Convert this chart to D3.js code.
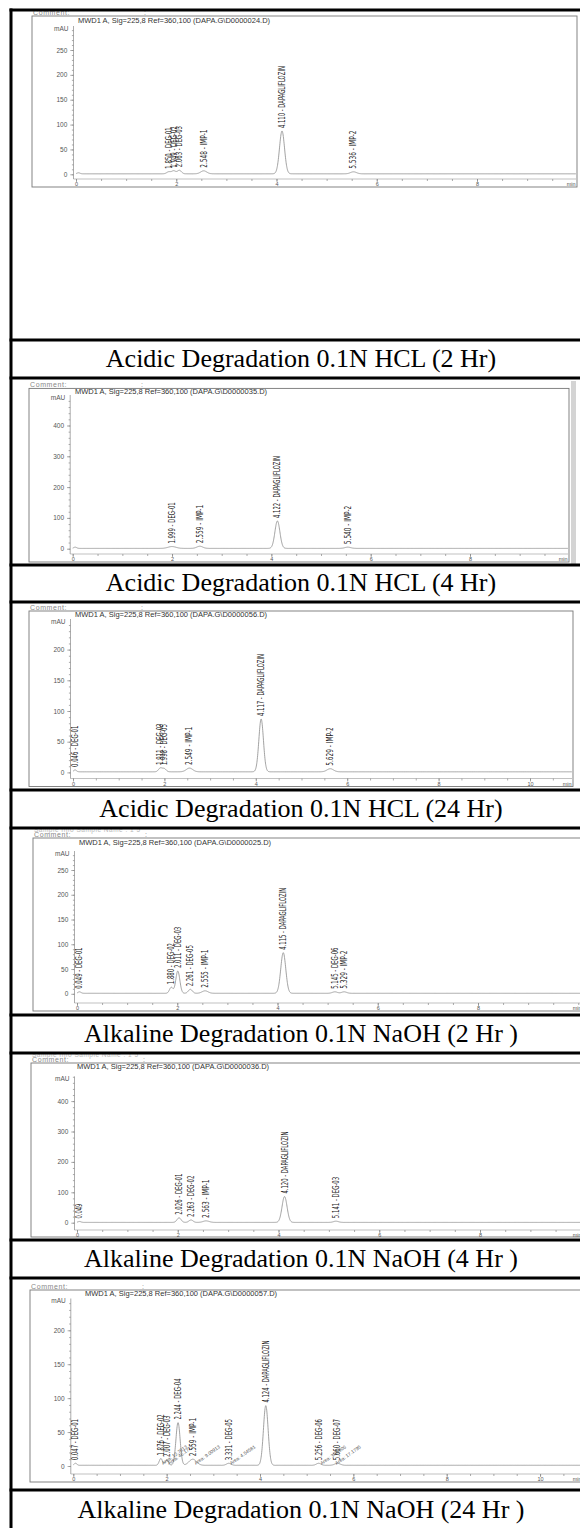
<!DOCTYPE html>
<html>
<head>
<meta charset="utf-8">
<script src="https://cdn.jsdelivr.net/npm/d3@7/dist/d3.min.js"></script>
<style>
body { margin: 0; background: #fff; }
</style>
</head>
<body>
<svg id="s"></svg>
<script>
const captions = [
  'Acidic Degradation 0.1N HCL (2 Hr)',
  'Acidic Degradation 0.1N HCL (4 Hr)',
  'Acidic Degradation 0.1N HCL (24 Hr)',
  'Alkaline Degradation 0.1N NaOH (2 Hr )',
  'Alkaline Degradation 0.1N NaOH (4 Hr )',
  'Alkaline Degradation 0.1N NaOH (24 Hr )',
];
const dataFiles = ['D0000024', 'D0000035', 'D0000056', 'D0000025', 'D0000036', 'D0000057'];

// tick labels
const yTicks250 = [0, 50, 100, 150, 200, 250];
const yTicks400 = [0, 100, 200, 300, 400];
const yTicks200 = [0, 50, 100, 150, 200];
const xTicks8 = [0, 2, 4, 6, 8];
const xTicks10 = [0, 2, 4, 6, 8, 10];

// peaks: retention time (min), height (mAU), sigma (min), name (null = no label)
const acid2Rt = [0.05, 1.850, 1.949, 2.063, 2.548, 4.110, 5.536];
const acid2Height = [2, 4, 6, 7, 6, 86, 4];
const acid2Sigma = [0.03, 0.04, 0.04, 0.04, 0.06, 0.05, 0.06];
const acid2Name = [null, 'DEG-01', 'DEG-02', 'DEG-03', 'IMP-1', 'DAPAGLIFLOZIN', 'IMP-2'];

const acid4Rt = [0.05, 1.999, 2.559, 4.122, 5.540];
const acid4Height = [4, 6, 7, 89, 4];
const acid4Sigma = [0.03, 0.08, 0.06, 0.05, 0.06];
const acid4Name = [null, 'DEG-01', 'IMP-1', 'DAPAGLIFLOZIN', 'IMP-2'];

const acid24Rt = [0.046, 1.911, 1.998, 2.549, 4.117, 5.629];
const acid24Height = [3, 6, 5, 6, 86, 5];
const acid24Sigma = [0.03, 0.04, 0.04, 0.07, 0.05, 0.07];
const acid24Name = ['DEG-01', 'DEG-03', 'DEG-05', 'IMP-1', 'DAPAGLIFLOZIN', 'IMP-2'];

const alk2Rt = [0.049, 1.880, 2.011, 2.261, 2.555, 4.115, 5.145, 5.329];
const alk2Height = [3, 12, 45, 8, 5, 82, 3, 3];
const alk2Sigma = [0.03, 0.035, 0.04, 0.04, 0.06, 0.05, 0.05, 0.05];
const alk2Name = ['DEG-01', 'DEG-02', 'DEG-03', 'DEG-05', 'IMP-1', 'DAPAGLIFLOZIN', 'DEG-06', 'IMP-2'];

const alk4Rt = [0.049, 2.026, 2.263, 2.563, 4.120, 5.141];
const alk4Height = [3, 15, 8, 5, 85, 4];
const alk4Sigma = [0.03, 0.04, 0.04, 0.06, 0.05, 0.05];
const alk4Name = ['', 'DEG-01', 'DEG-02', 'IMP-1', 'DAPAGLIFLOZIN', 'DEG-03'];

const alk24Rt = [0.047, 1.876, 2.007, 2.244, 2.559, 3.331, 4.124, 5.256, 5.660];
const alk24Height = [3, 10, 8, 63, 9, 3, 88, 3, 3];
const alk24Sigma = [0.03, 0.035, 0.035, 0.045, 0.08, 0.05, 0.05, 0.05, 0.06];
const alk24Name = ['DEG-01', 'DEG-02', 'DEG-03', 'DEG-04', 'IMP-1', 'DEG-05', 'DAPAGLIFLOZIN', 'DEG-06', 'DEG-07'];

const alk24AreaRt = [1.90, 2.03, 2.60, 3.36, 5.30, 5.62];
const alk24AreaText = ['Area: 12.7813', 'Area: 46.1713', 'Area: 9.00913', 'Area: 4.54581', 'Area: 3.06906', 'Area: 17.1795'];

const runs = [
  { rt: acid2Rt, h: acid2Height, s: acid2Sigma, name: acid2Name, yTicks: yTicks250, yMinor: 10, xTicks: xTicks8 },
  { rt: acid4Rt, h: acid4Height, s: acid4Sigma, name: acid4Name, yTicks: yTicks400, yMinor: 20, xTicks: xTicks8 },
  { rt: acid24Rt, h: acid24Height, s: acid24Sigma, name: acid24Name, yTicks: yTicks200, yMinor: 10, xTicks: xTicks10 },
  { rt: alk2Rt, h: alk2Height, s: alk2Sigma, name: alk2Name, yTicks: yTicks250, yMinor: 10, xTicks: xTicks8 },
  { rt: alk4Rt, h: alk4Height, s: alk4Sigma, name: alk4Name, yTicks: yTicks400, yMinor: 20, xTicks: xTicks8 },
  { rt: alk24Rt, h: alk24Height, s: alk24Sigma, name: alk24Name, yTicks: yTicks200, yMinor: 10, xTicks: xTicks10,
    areaRt: alk24AreaRt, areaText: alk24AreaText },
];

// page layout (px)
const rowLines = [10, 340, 378, 565, 602, 790, 828, 1015, 1053, 1240, 1278, 1490, 1531];
const layout = [
  { frame: [32, 16, 577, 187], title: [78, 23], yZero: 174.3, yTopTick: 50, yTop: 26, xAxisY: 179, x0: 76, x8: 477 },
  { frame: [29, 388.4, 569, 562], title: [75, 393.5], yZero: 548.7, yTopTick: 425.5, yTop: 395, xAxisY: 554, x0: 72.7, x8: 470, strip: true },
  { frame: [29, 611, 573, 786.5], title: [75, 616.5], yZero: 772.4, yTopTick: 649.6, yTop: 619, xAxisY: 778.5, x0: 73, x8: 438.6 },
  { frame: [33, 838, 583, 1011], title: [79, 844.5], yZero: 993.8, yTopTick: 870, yTop: 851, xAxisY: 1003, x0: 77, x8: 478, ghost: true },
  { frame: [31, 1063, 583, 1237], title: [77, 1069.3], yZero: 1222.7, yTopTick: 1101.1, yTop: 1076.4, xAxisY: 1230, x0: 77, x8: 480, ghost: true },
  { frame: [30, 1290, 583, 1482], title: [85, 1296.4], yZero: 1466, yTopTick: 1330.3, yTop: 1298.5, xAxisY: 1474, x0: 73.3, x8: 446.7 },
];

const sans = "'Liberation Sans', Arial, sans-serif";
const narrow = "'Liberation Sans Narrow', 'Arial Narrow', 'DejaVu Sans Condensed', sans-serif";

const svg = d3.select('#s').attr('width', 580).attr('height', 1528);
const defs = svg.append('defs');

function styleAxis(sel, fontSize) {
  sel.select('.domain').remove();
  sel.selectAll('line').attr('stroke', '#888').attr('stroke-width', 0.7);
  sel.selectAll('text').attr('font-size', fontSize).attr('fill', '#555').attr('font-family', sans);
}

function drawRun(run, L, i) {
  const top = rowLines[2 * i];
  const bottom = rowLines[2 * i + 1];
  defs.append('clipPath').attr('id', 'clip' + i)
    .append('rect').attr('x', 12).attr('y', top + 1).attr('width', 570).attr('height', bottom - top - 2);
  const g = svg.append('g').attr('clip-path', `url(#clip${i})`);
  const [fx0, fy0, fx1, fy1] = L.frame;

  if (L.ghost) {
    g.append('text').attr('x', fx0 + 1).attr('y', fy0 - 6.5)
      .attr('font-size', 6.5).attr('font-family', sans).attr('fill', '#bbb').attr('letter-spacing', 0.5)
      .text('Sample Info      Sample Name :         1          5');
  }
  g.append('text').attr('x', fx0 + 1).attr('y', fy0 - 1.5)
    .attr('font-size', 7).attr('font-family', sans).attr('fill', '#888').attr('letter-spacing', 0.6)
    .text('Comment:');
  g.append('text').attr('x', fx0 + 112).attr('y', fy0 - 1.5)
    .attr('font-size', 7).attr('font-family', sans).attr('fill', '#888').text(':');

  g.append('rect').attr('x', fx0).attr('y', fy0).attr('width', fx1 - fx0).attr('height', fy1 - fy0)
    .attr('fill', 'none').attr('stroke', '#777').attr('stroke-width', 0.9);
  if (L.strip) {
    g.append('rect').attr('x', fx1 + 2).attr('y', top + 3).attr('width', 5).attr('height', bottom - top - 3)
      .attr('fill', '#d4d4d4');
  }

  g.append('text').attr('x', L.title[0]).attr('y', L.title[1])
    .attr('font-size', 7.5).attr('font-family', sans).attr('fill', '#333')
    .text(`MWD1 A, Sig=225,8 Ref=360,100 (DAPA.G\\${dataFiles[i]}.D)`);

  // scales
  const x = d3.scaleLinear().domain([0, 8]).range([L.x0, L.x8]);
  const xMax = x.invert(fx1 - 1);
  const yRef = run.yTicks[run.yTicks.length - 1];
  const y = d3.scaleLinear().domain([0, yRef]).range([L.yZero, L.yTopTick]);
  const yAxis = y.copy().domain([y.invert(L.xAxisY), y.invert(L.yTop)]).range([L.xAxisY, L.yTop]);
  const axisX = L.x0 - 2.5;

  // y axis
  g.append('line').attr('x1', axisX).attr('x2', axisX).attr('y1', L.xAxisY).attr('y2', L.yTop)
    .attr('stroke', '#888').attr('stroke-width', 0.7);
  g.append('g').attr('transform', `translate(${axisX},0)`)
    .call(d3.axisLeft(yAxis).tickValues(d3.range(0, yAxis.domain()[1], run.yMinor)).tickSize(1.6).tickFormat(''))
    .call(sel => styleAxis(sel, 6));
  g.append('g').attr('transform', `translate(${axisX},0)`)
    .call(d3.axisLeft(yAxis).tickValues(run.yTicks).tickSize(3.2).tickPadding(3))
    .call(sel => styleAxis(sel, 6.5));
  g.append('text').attr('x', axisX - 5).attr('y', L.yTop + 4.5).attr('text-anchor', 'end')
    .attr('font-size', 6.5).attr('font-family', sans).attr('fill', '#555').text('mAU');

  // x axis
  g.append('line').attr('x1', axisX).attr('x2', fx1 - 1).attr('y1', L.xAxisY).attr('y2', L.xAxisY)
    .attr('stroke', '#999').attr('stroke-width', 0.6);
  g.append('g').attr('transform', `translate(0,${L.xAxisY})`)
    .call(d3.axisBottom(x).tickValues(d3.range(0, xMax, 0.5)).tickSize(2).tickFormat(''))
    .call(sel => styleAxis(sel, 5.5));
  g.append('g').attr('transform', `translate(0,${L.xAxisY})`)
    .call(d3.axisBottom(x).tickValues(run.xTicks).tickSize(3).tickPadding(0.5))
    .call(sel => styleAxis(sel, 5.5));
  g.append('text').attr('x', fx1 - 1.5).attr('y', L.xAxisY + 7).attr('text-anchor', 'end')
    .attr('font-size', 5.5).attr('font-family', sans).attr('fill', '#555').text('min');

  // chromatogram trace
  const signal = t => 1 + d3.sum(run.rt, (r, k) => run.h[k] * Math.exp(-0.5 * ((t - r) / run.s[k]) ** 2));
  const times = d3.range(0, xMax, 0.004);
  g.append('path').datum(times)
    .attr('d', d3.line().x(t => x(t)).y(t => y(signal(t))))
    .attr('fill', 'none').attr('stroke', '#8a8a8a').attr('stroke-width', 0.8);

  // peak labels
  run.rt.forEach((r, k) => {
    const nm = run.name[k];
    if (nm === null) return;
    const label = nm === '' ? r.toFixed(3) : `${r.toFixed(3)} - ${nm}`;
    g.append('text')
      .attr('transform', `translate(${x(r) + 3},${y(signal(r)) - 3}) rotate(-90)`)
      .attr('font-size', 8).attr('font-family', narrow).attr('fill', '#222')
      .attr('textLength', label.length * 2.95).attr('lengthAdjust', 'spacingAndGlyphs')
      .text(label);
  });

  if (run.areaRt) {
    run.areaRt.forEach((r, k) => {
      g.append('text')
        .attr('transform', `translate(${x(r) + 1},${y(0) - 1}) rotate(-35)`)
        .attr('font-size', 4.8).attr('font-family', sans).attr('fill', '#555')
        .text(run.areaText[k]);
    });
  }
}

runs.forEach((run, i) => drawRun(run, layout[i], i));

// captions
captions.forEach((c, i) => {
  const top = rowLines[2 * i + 1];
  const bottom = rowLines[2 * i + 2];
  svg.append('text').attr('x', 301).attr('y', (top + bottom) / 2 + 7.5)
    .attr('text-anchor', 'middle').attr('font-size', 26)
    .attr('font-family', "'Liberation Serif', 'Times New Roman', serif").attr('fill', '#000')
    .text(c);
});

// table borders
svg.append('g').selectAll('line').data(rowLines).join('line')
  .attr('x1', 9.5).attr('x2', 580).attr('y1', d => d).attr('y2', d => d)
  .attr('stroke', '#000').attr('stroke-width', 3);
svg.append('line').attr('x1', 11).attr('x2', 11).attr('y1', 8.5).attr('y2', 1528)
  .attr('stroke', '#000').attr('stroke-width', 3);
</script>
</body>
</html>
